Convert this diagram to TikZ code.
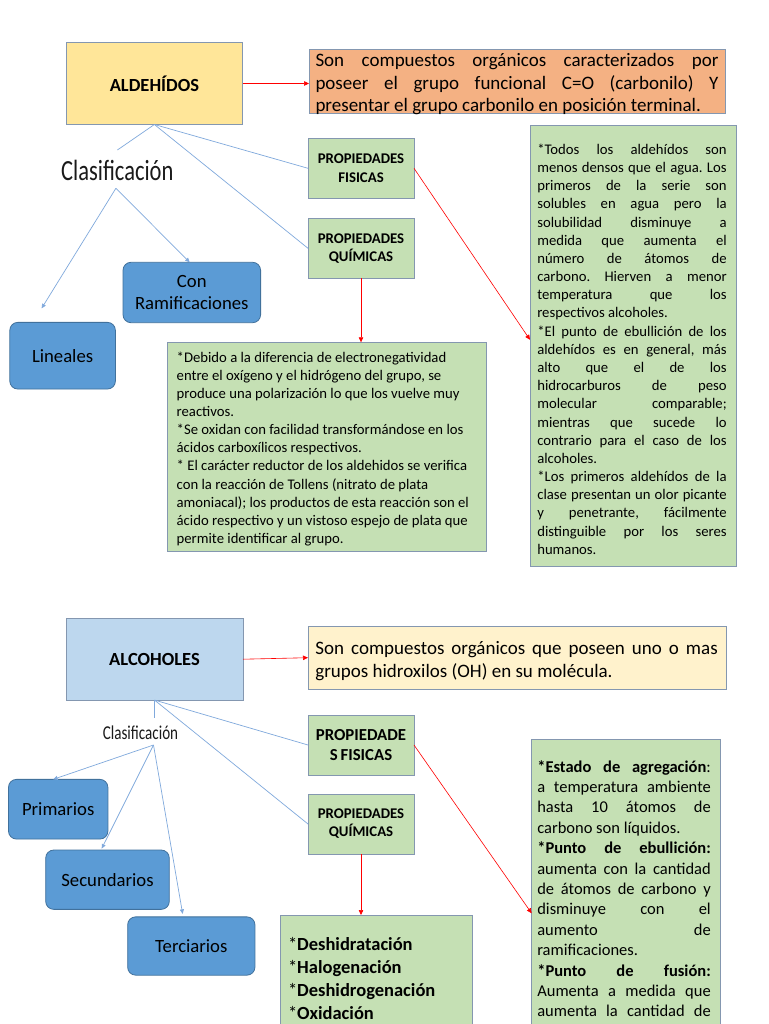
\documentclass[tikz,border=0pt]{standalone}
\usepackage{fontspec}
\setmainfont{Carlito}
\usepackage{graphicx}
\usetikzlibrary{arrows.meta}
\definecolor{yel}{HTML}{FFE699}
\definecolor{orng}{HTML}{F4B183}
\definecolor{grn}{HTML}{C5E0B4}
\definecolor{lblu}{HTML}{BDD7EE}
\definecolor{pyel}{HTML}{FFF2CC}
\definecolor{rfill}{HTML}{5B9BD5}
\definecolor{rbord}{HTML}{41719C}
\definecolor{bordc}{HTML}{8497B0}
\definecolor{linec}{HTML}{80A9DC}
\definecolor{clasc}{HTML}{1A1A1A}
\frenchspacing
\newcommand\fs[2]{\fontsize{#1}{#2}\selectfont}
\newcommand\ns{\spaceskip=0pt\xspaceskip=0pt\relax}
\newlength\jw
\newcommand\J[1]{{\ns\makebox[\jw][s]{#1}}}
\begin{document}
\begin{tikzpicture}[x=1pt,y=-1pt,
  box/.style={draw=bordc, line width=0.8pt, inner sep=0pt, outer sep=0pt, align=center},
  rbox/.style={draw=rbord, fill=rfill, rounded corners=8pt, line width=0.8pt, inner sep=0pt, outer sep=0pt, align=center, font=\fs{18.7}{22.5}},
  txt/.style={inner sep=0pt, outer sep=0pt, anchor=base west, align=left},
  bl/.style={draw=linec, line width=0.7pt},
  blar/.style={bl, -{Triangle[length=4.5pt,width=4pt]}},
  rar/.style={draw=red, line width=0.6pt, -{Triangle[length=5pt,width=4.5pt]}}
]
\useasboundingbox (0,0) rectangle (768,1024);
\clip (0,0) rectangle (768,1024);
\fill[white] (0,0) rectangle (768,1024);

% ================= ALDEHIDOS =================
\node[box, fill=yel, minimum width=176.7pt, minimum height=82pt, font=\bfseries\fs{18.5}{22}] (ald) at (154.4,83.5) {ALDEHÍDOS};
\node[box, fill=orng, minimum width=416pt, minimum height=63.5pt] (aldef) at (517,81.25) {};
\node[txt, text width=403pt, font=\fs{19}{22.5}] (aldeftxt) at (315.5,67) {\ns\setlength\jw{403pt}%
\J{Son compuestos orgánicos caracterizados por}\\\relax
\J{poseer el grupo funcional C=O (carbonilo) Y}\\\relax
presentar el grupo carbonilo en posición terminal.};

\node[inner sep=0pt, anchor=base, font=\fs{22.5}{27}, text=clasc] (clas1) at (117.3,180.7) {\scalebox{1}[1.3]{Clasificación}};
\coordinate (c1in) at (117.4,150);
\coordinate (c1out) at (115.9,188.3);

\node[box, fill=grn, minimum width=106pt, minimum height=60pt, font=\bfseries\fs{14.8}{18.3}] (pf1) at (361,168.3) {PROPIEDADES\\FISICAS};
\node[box, fill=grn, minimum width=106pt, minimum height=60pt, font=\bfseries\fs{14.8}{18.3}] (pq1) at (361,248.3) {PROPIEDADES\\QUÍMICAS};

\node[rbox, minimum width=137.6pt, minimum height=60.4pt] (conr) at (191.8,292.5) {Con\\Ramificaciones};
\node[rbox, minimum width=105.6pt, minimum height=66.7pt] (lin) at (62.6,355.7) {Lineales};

\node[box, fill=grn, minimum width=319.4pt, minimum height=209.4pt] (mid) at (327,447) {};
\node[txt, text width=308pt, font=\fs{14.7}{18.1}] (midtxt) at (176.7,362.3) {\ns
*Debido a la diferencia de electronegatividad\\\relax
entre el oxígeno y el hidrógeno del grupo, se\\\relax
produce una polarización lo que los vuelve muy\\\relax
reactivos.\\\relax
*Se oxidan con facilidad transformándose en los\\\relax
ácidos carboxílicos respectivos.\\\relax
* El carácter reductor de los aldehidos se verifica\\\relax
con la reacción de Tollens (nitrato de plata\\\relax
amoniacal); los productos de esta reacción son el\\\relax
ácido respectivo y un vistoso espejo de plata que\\\relax
permite identificar al grupo.};

\node[box, fill=grn, minimum width=206pt, minimum height=441.7pt] (rt) at (633,345.8) {};
\node[txt, text width=189.4pt, font=\fs{14.7}{18.18}] (rttxt) at (537.3,154.3) {\ns\setlength\jw{189.4pt}%
\J{*Todos los aldehídos son}\\\relax
\J{menos densos que el agua. Los}\\\relax
\J{primeros de la serie son}\\\relax
\J{solubles en agua pero la}\\\relax
\J{solubilidad disminuye a}\\\relax
\J{medida que aumenta el}\\\relax
\J{número de átomos de}\\\relax
\J{carbono. Hierven a menor}\\\relax
\J{temperatura que los}\\\relax
respectivos alcoholes.\\\relax
\J{*El punto de ebullición de los}\\\relax
\J{aldehídos es en general, más}\\\relax
\J{alto que el de los}\\\relax
\J{hidrocarburos de peso}\\\relax
\J{molecular comparable;}\\\relax
\J{mientras que sucede lo}\\\relax
\J{contrario para el caso de los}\\\relax
alcoholes.\\\relax
\J{*Los primeros aldehídos de la}\\\relax
\J{clase presentan un olor picante}\\\relax
\J{y penetrante, fácilmente}\\\relax
\J{distinguible por los seres}\\\relax
humanos.};

% connectors (top)
\draw[rar] (ald.east) -- (ald.east -| aldef.west);
\draw[bl] (ald.south) -- (c1in);
\draw[blar] (c1out) -- ([xshift=31.8pt,yshift=14pt]lin.north west);
\draw[blar] (c1out) -- ([xshift=66.7pt]conr.north west);
\draw[bl] (ald.south) -- (pf1.west);
\draw[bl] (ald.south) -- (pq1.west);
\draw[rar] (pq1.south) -- (pq1.south |- mid.north);
\draw[rar] (pf1.east) -- ([yshift=6pt]rt.west);

% ================= ALCOHOLES =================
\node[box, fill=lblu, minimum width=177pt, minimum height=81.7pt, font=\bfseries\fs{18.5}{22}] (alc) at (154.5,659.2) {ALCOHOLES};
\node[box, fill=pyel, minimum width=418pt, minimum height=63.3pt] (alcdef) at (517,657.7) {};
\node[txt, text width=402.4pt, font=\fs{19}{23.4}] (alcdeftxt) at (315.4,654.3) {\ns\setlength\jw{402.4pt}%
\J{Son compuestos orgánicos que poseen uno o mas}\\\relax
grupos hidroxilos (OH) en su molécula.};

\node[inner sep=0pt, anchor=base, font=\fs{15.1}{18}, text=clasc] (clas2) at (140.5,739) {\scalebox{1}[1.3]{Clasificación}};
\coordinate (c2in) at (154.5,718);
\coordinate (c2out) at (153.5,745);

\node[box, fill=grn, minimum width=106pt, minimum height=60pt, font=\bfseries\fs{16.8}{20}] (pf2) at (361,745) {PROPIEDADE\\S\,FISICAS};
\node[box, fill=grn, minimum width=106pt, minimum height=60pt, font=\bfseries\fs{14.8}{18}] (pq2) at (361,824) {PROPIEDADES\\QUÍMICAS};

\node[rbox, minimum width=99.4pt, minimum height=59.7pt] (prim) at (58.2,809.2) {Primarios};
\node[rbox, minimum width=123.6pt, minimum height=59.3pt] (sec) at (107.5,879.7) {Secundarios};
\node[rbox, minimum width=127.3pt, minimum height=58.3pt] (ter) at (191.3,946) {Terciarios};

\node[box, fill=grn, minimum width=192pt, minimum height=130pt] (bm) at (376,980) {};
\node[txt, text width=180pt, font=\fs{18.5}{23.3}] (bmtxt) at (288,950) {\ns
*\textbf{Deshidratación}\\\relax
*\textbf{Halogenación}\\\relax
*\textbf{Deshidrogenación}\\\relax
*\textbf{Oxidación}};

\node[box, fill=grn, minimum width=188.3pt, minimum height=300pt] (rb) at (625.8,889.3) {};
\node[txt, text width=173.5pt, font=\fs{16.5}{20.4}] (rbtxt) at (537.3,772) {\ns\setlength\jw{173.5pt}%
\J{\textbf{*Estado de agregación}:}\\\relax
\J{a temperatura ambiente}\\\relax
\J{hasta 10 átomos de}\\\relax
carbono son líquidos.\\\relax
\J{\textbf{*Punto de ebullición:}}\\\relax
\J{aumenta con la cantidad}\\\relax
\J{de átomos de carbono y}\\\relax
\J{disminuye con el}\\\relax
\J{aumento de}\\\relax
ramificaciones.\\\relax
\J{\textbf{*Punto de fusión:}}\\\relax
\J{Aumenta a medida que}\\\relax
\J{aumenta la cantidad de}};

% connectors (bottom)
\draw[rar] (alc.east) -- (alcdef.west);
\draw[bl] (alc.south) -- (c2in);
\draw[blar] (c2out) -- ([xshift=44.7pt]prim.north west);
\draw[blar] (c2out) -- ([xshift=56pt,yshift=1.5pt]sec.north west);
\draw[blar] (c2out) -- ([xshift=55pt,yshift=3pt]ter.north west);
\draw[bl] (alc.south) -- (pf2.west);
\draw[bl] (alc.south) -- (pq2.west);
\draw[rar] (pq2.south) -- (pq2.south |- bm.north);
\draw[rar] (pf2.east) -- ([yshift=-174pt]rb.north west);
\end{tikzpicture}
\end{document}
